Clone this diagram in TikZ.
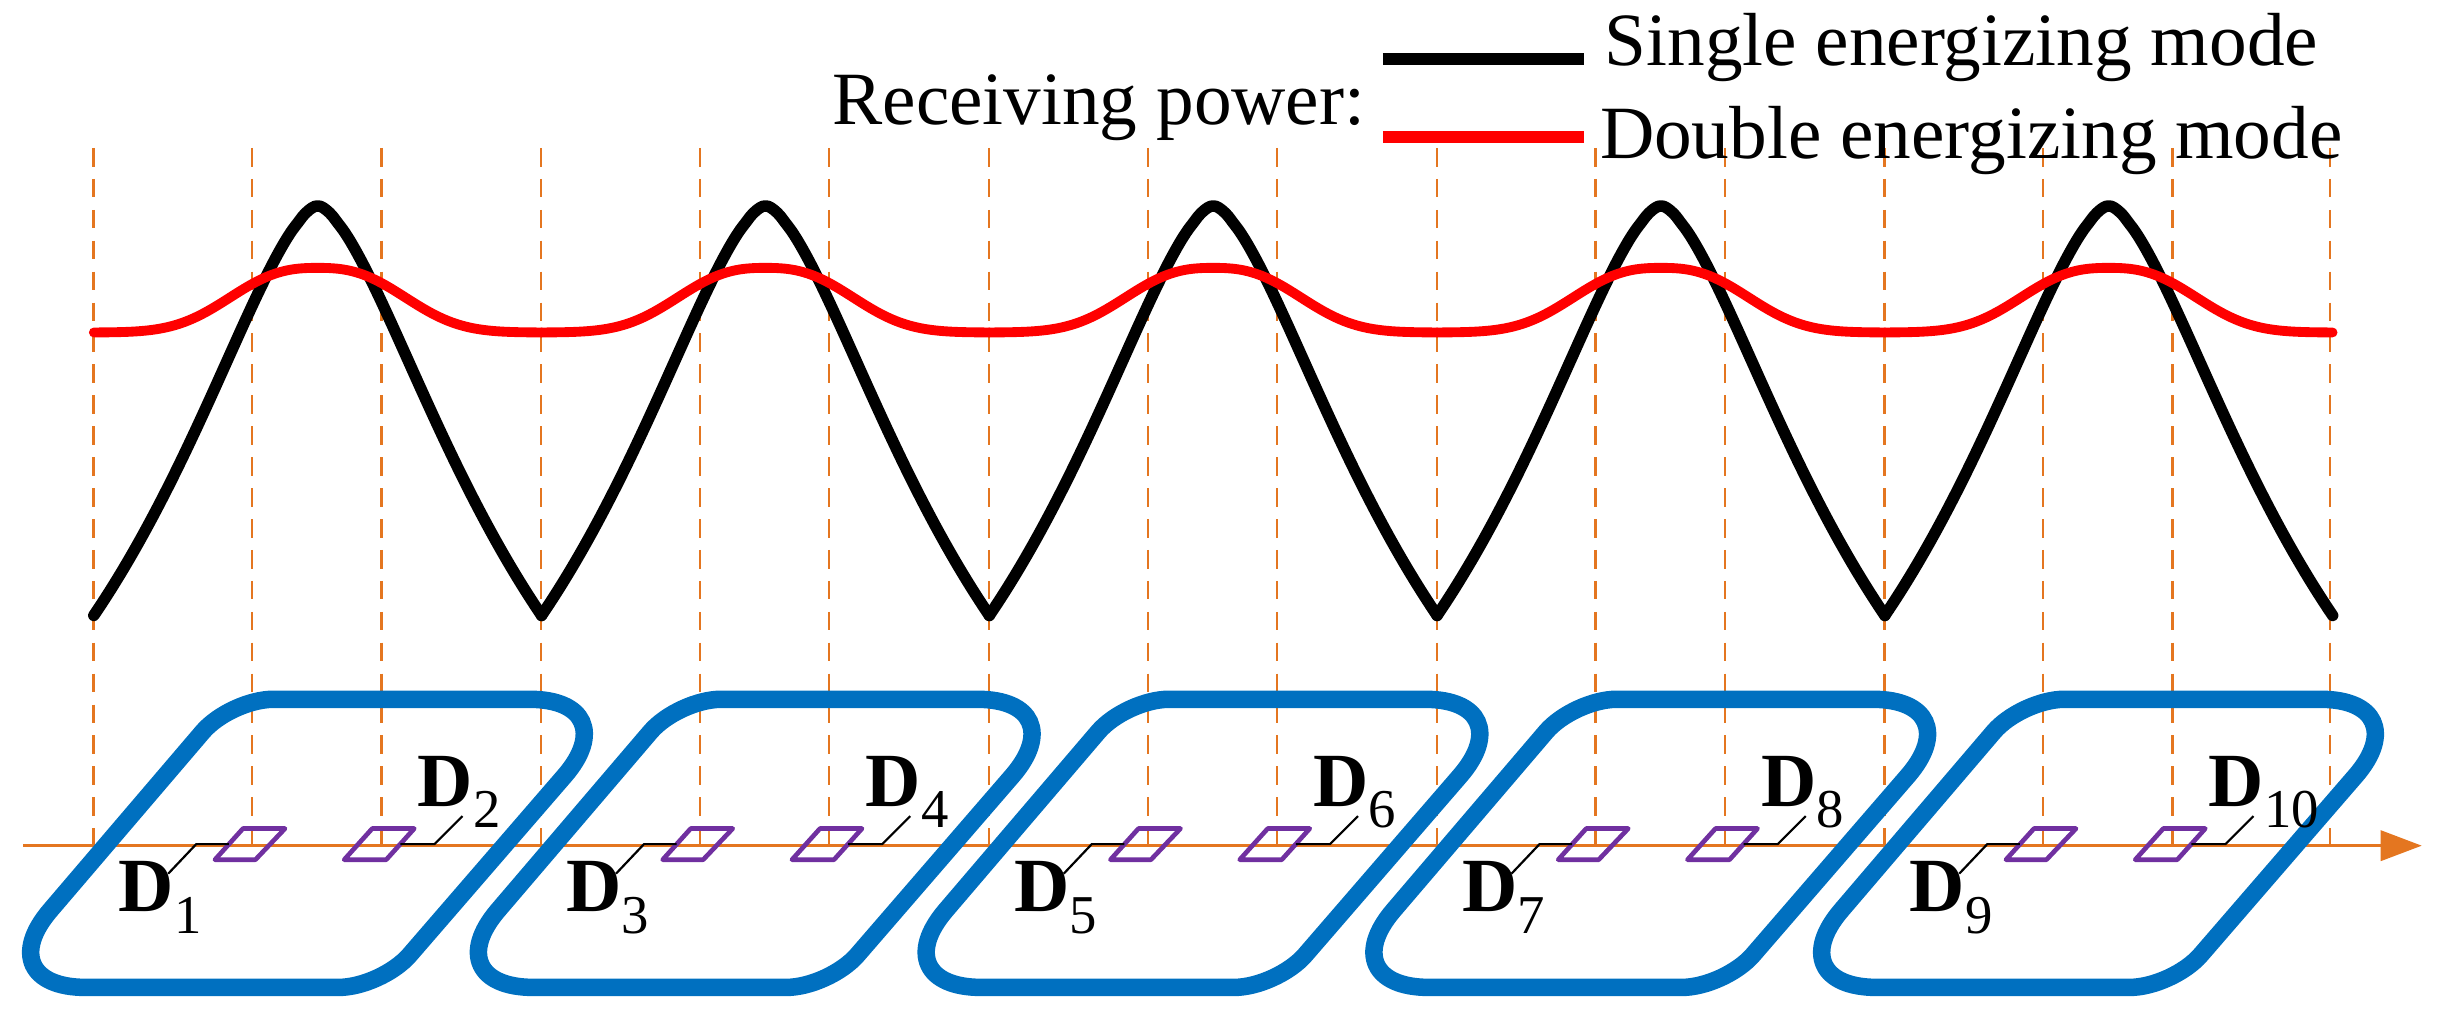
\documentclass[tikz,border=0pt]{standalone}
\usepackage{fontspec}
\setmainfont{Liberation Serif}
\usetikzlibrary{arrows.meta}
\definecolor{axisor}{RGB}{228,118,32}
\definecolor{coilblue}{RGB}{0,112,192}
\definecolor{rxpurple}{RGB}{112,48,160}
\tikzset{
  dashv/.style={axisor,line width=0.85pt,dash pattern=on 6.8pt off 4.5pt},
  coil/.style={coilblue,line width=6.4pt},
  rx/.style={rxpurple,line width=1.7pt,line join=round},
  single/.style={black,line width=4.2pt,line cap=round,line join=round},
  double/.style={red,line width=3.6pt,line cap=round,line join=round},
  lead/.style={black,line width=0.8pt},
  lbl/.style={inner sep=0pt,font=\fontsize{28}{30}\selectfont},
  txt/.style={inner sep=0pt,font=\fontsize{27.5}{30}\selectfont}
}
\newcommand{\Dlab}[1]{\textbf{D}\raisebox{-0.28em}{\fontsize{20}{20}\selectfont #1}}
\begin{document}
\begin{tikzpicture}[x=0.02cm,y=-0.02cm]
\useasboundingbox (0,0) rectangle (1568,653);
% dashed guides
\foreach \k in {0,...,4}{
  \foreach \dx in {0,102,185}{
    \draw[dashv] ({60+287.5*\k+\dx},95) -- ({60+287.5*\k+\dx},543);
  }
}
\draw[dashv] (1496,95) -- (1496,543);
% axis
\coordinate (axs) at (15,543);
\coordinate (axe) at (1555,543);
\draw[axisor,line width=1.2pt,-{Triangle[length=15pt,width=11pt]}] (axs) -- (axe);
% coils, receivers, labels
\foreach \k/\a/\b in {0/1/2,1/3/4,2/5/6,3/7/8,4/9/10}{
  \begin{scope}[xshift={287.5*\k*0.02cm}]
    \draw[coil] (120,634) [rounded corners=1.3cm] -- (-10,634)
      [rounded corners=0.55cm] -- (148,449)
      [rounded corners=1.3cm] -- (405,449)
      [rounded corners=0.55cm] -- (245,634) [sharp corners] -- cycle;
    \draw[rx] (156,532) -- (183,532) -- (164,552) -- (138,552) -- cycle;
    \draw[rx] (239,532) -- (266,532) -- (248,552) -- (221,552) -- cycle;
    \node[lbl,anchor=north west] (Da\k) at (76,553) {\Dlab{\a}};
    \node[lbl,anchor=north west] (Db\k) at (268,485) {\Dlab{\b}};
    \draw[lead] (147,542) -- (126,542) -- (108,561);
    \draw[lead] (257,542) -- (279,542) -- (297,524);
  \end{scope}
}
% curves
\foreach \k in {0,...,4}{
  \draw[single] plot[domain=-1.4375:1.4375,samples=80,smooth]
    ({204+287.5*\k+100*\x},{132+292*(abs(\x)^1.6)/(1+0.55*abs(\x)^1.6)});
  \draw[double] plot[domain=-2.114:2.114,samples=80,smooth]
    ({204+287.5*\k+68*\x},{213.5-41.5*exp(-(abs(\x)^2.6))});
}
% legend
\node[txt,anchor=base east] (rp) at (877,80) {Receiving power:};
\coordinate (l1a) at (888,38); \coordinate (l1b) at (1017,38);
\coordinate (l2a) at (888,88); \coordinate (l2b) at (1017,88);
\draw[black,line width=4.2pt] (l1a) -- (l1b);
\draw[red,line width=4.2pt] (l2a) -- (l2b);
\node[txt,anchor=base west] (sm) at (1030,42) {Single energizing mode};
\node[txt,anchor=base west] (dm) at (1027,102) {Double energizing mode};
\end{tikzpicture}
\end{document}
